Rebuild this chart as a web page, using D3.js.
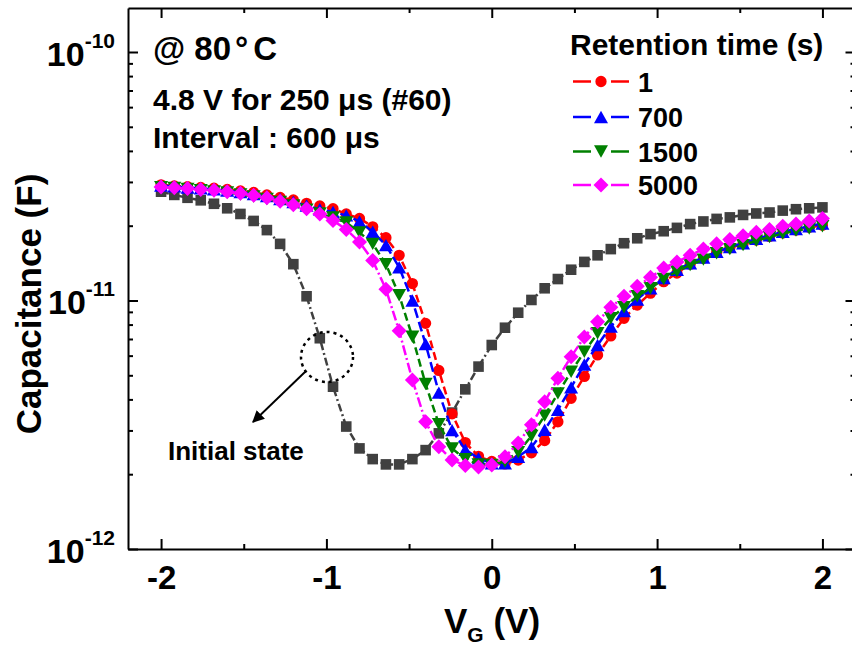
<!DOCTYPE html>
<html>
<head>
<meta charset="utf-8">
<script src="https://cdn.jsdelivr.net/npm/d3@7"></script>
<style>
  html, body { margin: 0; padding: 0; background: #fff; }
  svg { display: block; font-family: "Liberation Sans", Arial, sans-serif; font-weight: bold; }
  .axis .domain { stroke: #000; stroke-width: 2; }
  .axis .tick line { stroke: #000; stroke-width: 2; }
  .axis text { font-family: "Liberation Sans", Arial, sans-serif; font-weight: bold; fill: #000; }
</style>
</head>
<body>
<svg id="chart" width="852" height="650"></svg>
<script>
// gate voltage sweep (V)
const vg = [-2, -1.92, -1.84, -1.76, -1.68, -1.6, -1.52, -1.44, -1.36, -1.28,
  -1.2, -1.12, -1.04, -0.96, -0.88, -0.8, -0.72, -0.64, -0.56, -0.48,
  -0.4, -0.32, -0.24, -0.16, -0.08, 0, 0.08, 0.16, 0.24, 0.32,
  0.4, 0.48, 0.56, 0.64, 0.72, 0.8, 0.88, 0.96, 1.04, 1.12,
  1.2, 1.28, 1.36, 1.44, 1.52, 1.6, 1.68, 1.76, 1.84, 1.92, 2];

// capacitance in pF
const initialState = [27.4, 26.6, 25.9, 25.3, 24.5, 23.5, 22.3, 20.9, 19.2, 16.9,
  14.0, 10.4, 7.05, 4.50, 3.11, 2.54, 2.30, 2.19, 2.19, 2.30,
  2.50, 2.92, 3.54, 4.39, 5.42, 6.62, 7.77, 8.93, 10.05, 11.2,
  12.2, 13.3, 14.3, 15.2, 16.1, 17.0, 17.8, 18.5, 19.0, 19.6,
  20.3, 20.8, 21.3, 21.6, 22.1, 22.4, 22.6, 23.0, 23.3, 23.5, 23.7];
const ret1 = [29.2, 28.9, 28.7, 28.5, 28.3, 28.0, 27.6, 27.2, 26.6, 26.0,
  25.4, 24.6, 24.0, 23.4, 22.3, 21.4, 19.8, 17.9, 15.2, 11.7,
  8.09, 5.23, 3.50, 2.68, 2.36, 2.25, 2.20, 2.28, 2.44, 2.73,
  3.25, 4.04, 4.95, 6.04, 7.20, 8.48, 9.59, 10.7, 11.9, 12.9,
  14.0, 14.8, 15.6, 16.3, 16.9, 17.5, 18.1, 18.7, 19.2, 19.7, 20.1];
const ret700 = [29.0, 28.8, 28.5, 28.3, 28.0, 27.7, 27.3, 26.8, 26.3, 25.6,
  24.9, 24.1, 23.3, 22.7, 22.0, 20.8, 18.9, 16.7, 13.6, 10.0,
  6.68, 4.26, 3.01, 2.51, 2.32, 2.21, 2.21, 2.35, 2.57, 3.02,
  3.63, 4.47, 5.53, 6.62, 7.85, 9.07, 10.1, 11.2, 12.3, 13.3,
  14.1, 14.9, 15.7, 16.4, 17.0, 17.7, 18.3, 18.9, 19.4, 19.9, 20.4];
const ret1500 = [28.6, 28.4, 28.1, 27.8, 27.5, 27.2, 26.7, 26.2, 25.6, 24.9,
  24.1, 23.2, 22.4, 21.6, 20.6, 18.8, 16.9, 14.0, 10.5, 7.15,
  4.61, 3.18, 2.54, 2.30, 2.19, 2.18, 2.25, 2.45, 2.85, 3.44,
  4.23, 5.17, 6.22, 7.38, 8.48, 9.39, 10.4, 11.2, 12.2, 13.1,
  13.9, 14.6, 15.5, 16.1, 16.7, 17.4, 18.0, 18.6, 19.1, 19.5, 19.9];
const ret5000 = [28.6, 28.4, 28.2, 28.0, 27.8, 27.4, 27.0, 26.5, 25.9, 25.1,
  24.3, 23.4, 22.3, 21.0, 19.3, 17.2, 14.5, 11.1, 7.55, 4.79,
  3.25, 2.58, 2.28, 2.17, 2.14, 2.18, 2.35, 2.67, 3.16, 3.91,
  4.86, 5.94, 7.13, 8.22, 9.39, 10.4, 11.4, 12.4, 13.5, 14.3,
  15.2, 16.1, 16.9, 17.6, 18.2, 18.8, 19.3, 19.9, 20.3, 20.9, 21.4];

const legendLabels = ['1', '700', '1500', '5000'];
const xTicks = [-2, -1, 0, 1, 2];
const xMinorTicks = [-1.5, -0.5, 0.5, 1.5];
const yTicks = [1, 10, 100];           // pF
const yTickExp = ['-12', '-11', '-10']; // shown as 10^exp F
const yMinorTicks = [2, 3, 4, 5, 6, 7, 8, 9, 20, 30, 40, 50, 60, 70, 80, 90];

const series = [
  { name: 'initial', values: initialState, color: '#404040', shape: 'square', dash: '8,3,2,3' },
  { name: legendLabels[0], values: ret1, color: '#ff0000', shape: 'circle', dash: '8,4' },
  { name: legendLabels[1], values: ret700, color: '#0000ff', shape: 'up', dash: '10,4' },
  { name: legendLabels[2], values: ret1500, color: '#008000', shape: 'down', dash: '8,4' },
  { name: legendLabels[3], values: ret5000, color: '#ff00ff', shape: 'diamond', dash: '10,3,2,3' }
];

const svg = d3.select('#chart');
const plotLeft = 128, plotRight = 855.5, plotTop = 8, plotBottom = 549;

const x = d3.scaleLinear().domain([-2.2, 2.2]).range([plotLeft, plotRight]);
const y = d3.scaleLog().domain([1, Math.pow(10, (plotBottom - plotTop) / 248.5)]).range([plotBottom, plotTop]);

function markerPath(shape) {
  if (shape === 'square') return 'M-5.3,-5.3H5.3V5.3H-5.3Z';
  if (shape === 'circle') return d3.symbol(d3.symbolCircle, 100)();
  if (shape === 'up') return 'M0,-6.2L7,6.2L-7,6.2Z';
  if (shape === 'down') return 'M0,6.2L7,-6.2L-7,-6.2Z';
  return 'M0,-7.5L7.5,0L0,7.5L-7.5,0Z';
}

// axes (ticks pointing inwards)
const bottomAxis = svg.append('g').attr('class', 'axis')
  .attr('transform', `translate(0,${plotBottom})`)
  .call(d3.axisBottom(x).tickValues(xTicks).tickSize(-10).tickSizeOuter(0)
    .tickPadding(17).tickFormat(d => String(d)));
bottomAxis.selectAll('text').style('font-size', '33px');
svg.append('g').attr('class', 'axis')
  .attr('transform', `translate(0,${plotBottom})`)
  .call(d3.axisBottom(x).tickValues(xMinorTicks).tickSize(-5).tickSizeOuter(0).tickFormat(''))
  .select('.domain').remove();

svg.append('g').attr('class', 'axis')
  .attr('transform', `translate(0,${plotTop})`)
  .call(d3.axisTop(x).tickValues(xTicks).tickSize(-10).tickSizeOuter(0).tickFormat(''));
svg.append('g').attr('class', 'axis')
  .attr('transform', `translate(0,${plotTop})`)
  .call(d3.axisTop(x).tickValues(xMinorTicks).tickSize(-5).tickSizeOuter(0).tickFormat(''))
  .select('.domain').remove();

const leftAxis = svg.append('g').attr('class', 'axis')
  .attr('transform', `translate(${plotLeft},0)`)
  .call(d3.axisLeft(y).tickValues(yTicks).tickSize(-10).tickSizeOuter(0).tickFormat(''));
svg.append('g').attr('class', 'axis')
  .attr('transform', `translate(${plotLeft},0)`)
  .call(d3.axisLeft(y).tickValues(yMinorTicks).tickSize(-5).tickSizeOuter(0).tickFormat(''))
  .select('.domain').remove();

svg.append('g').attr('class', 'axis')
  .attr('transform', `translate(${plotRight},0)`)
  .call(d3.axisRight(y).tickValues(yTicks).tickSize(-10).tickSizeOuter(0).tickFormat(''));
svg.append('g').attr('class', 'axis')
  .attr('transform', `translate(${plotRight},0)`)
  .call(d3.axisRight(y).tickValues(yMinorTicks).tickSize(-5).tickSizeOuter(0).tickFormat(''))
  .select('.domain').remove();

// y tick labels 10^n
leftAxis.selectAll('.tick').each(function (d, i) {
  const t = d3.select(this).append('text')
    .attr('x', -13).attr('y', 13)
    .attr('text-anchor', 'end')
    .style('font-size', '34px');
  t.append('tspan').text('10');
  t.append('tspan').attr('dy', -18).style('font-size', '21px').text(yTickExp[i]);
});

// axis titles
svg.append('text')
  .attr('transform', 'rotate(-90)')
  .attr('x', -304).attr('y', 41)
  .attr('text-anchor', 'middle')
  .style('font-size', '35px')
  .text('Capacitance (F)');

const xt = svg.append('text')
  .attr('x', 492).attr('y', 633)
  .attr('text-anchor', 'middle')
  .style('font-size', '35px');
xt.append('tspan').text('V');
xt.append('tspan').attr('dy', 9).style('font-size', '21px').text('G');
xt.append('tspan').attr('dy', -9).text(' (V)');

// series
const line = d3.line().x((d, i) => x(vg[i])).y(d => y(d));
const plot = svg.append('g');
series.forEach(s => {
  plot.append('path')
    .datum(s.values)
    .attr('d', line)
    .attr('fill', 'none')
    .attr('stroke', s.color)
    .attr('stroke-width', 2.5)
    .attr('stroke-dasharray', s.dash);
  plot.append('g').selectAll('path')
    .data(s.values)
    .join('path')
    .attr('transform', (d, i) => `translate(${x(vg[i])},${y(d)})`)
    .attr('d', markerPath(s.shape))
    .attr('fill', s.color);
});

// annotations
svg.append('text').attr('x', 153).attr('y', 60).style('font-size', '33px')
  .call(t => {
    t.append('tspan').text('@ 80');
    t.append('tspan').attr('dx', 4).text('°');
    t.append('tspan').attr('dx', 5).text('C');
  });
svg.append('text').attr('x', 153).attr('y', 110).style('font-size', '30px')
  .text('4.8 V for 250 μs (#60)');
svg.append('text').attr('x', 153).attr('y', 148).style('font-size', '30px')
  .text('Interval : 600 μs');

svg.append('ellipse')
  .attr('cx', 327).attr('cy', 357).attr('rx', 26).attr('ry', 25)
  .attr('fill', 'none').attr('stroke', '#000')
  .attr('stroke-width', 2.5).attr('stroke-dasharray', '3,4');

svg.append('defs').append('marker')
  .attr('id', 'arrow').attr('viewBox', '0 0 10 10')
  .attr('refX', 9).attr('refY', 5)
  .attr('markerWidth', 6).attr('markerHeight', 6)
  .attr('markerUnits', 'strokeWidth')
  .attr('orient', 'auto')
  .append('path').attr('d', 'M0,0L10,5L0,10Z').attr('fill', '#000');
svg.append('line')
  .attr('x1', 306).attr('y1', 371).attr('x2', 253).attr('y2', 422)
  .attr('stroke', '#000').attr('stroke-width', 2)
  .attr('marker-end', 'url(#arrow)');

svg.append('text').attr('x', 168).attr('y', 460).style('font-size', '26px')
  .text('Initial state');

// legend
svg.append('text').attr('x', 570).attr('y', 55).style('font-size', '30px')
  .text('Retention time (s)');
const legend = svg.append('g');
const legendRows = [81.5, 117, 151.5, 185];
series.slice(1).forEach((s, i) => {
  const g = legend.append('g').attr('transform', `translate(0,${legendRows[i]})`);
  g.append('line').attr('x1', 573).attr('x2', 591).attr('y1', 0).attr('y2', 0)
    .attr('stroke', s.color).attr('stroke-width', 2.5);
  g.append('line').attr('x1', 611).attr('x2', 629).attr('y1', 0).attr('y2', 0)
    .attr('stroke', s.color).attr('stroke-width', 2.5);
  g.append('path').attr('transform', 'translate(601,0)')
    .attr('d', markerPath(s.shape)).attr('fill', s.color);
  g.append('text').attr('x', 638).attr('y', 10).style('font-size', '27px').text(s.name);
});
</script>
</body>
</html>
